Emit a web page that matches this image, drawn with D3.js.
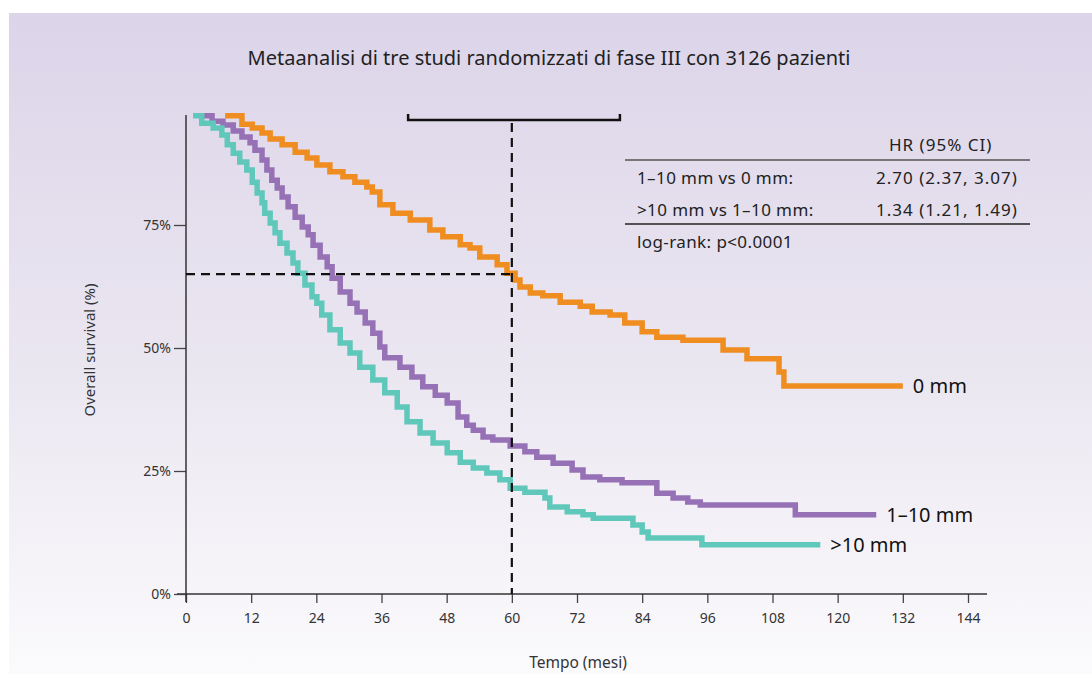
<!DOCTYPE html>
<html>
<head>
<meta charset="utf-8">
<script src="https://cdn.jsdelivr.net/npm/d3@7"></script>
<style>
  body { margin: 0; background: #fff; }
  svg { display: block; font-family: "Noto Sans", "Open Sans", sans-serif; }
</style>
</head>
<body>
<svg width="1092" height="674"></svg>
<script>
// Kaplan-Meier steps: [months, survival %]
var orange0mm = [[7.2,97.2],[10.3,95.5],[12.2,94.7],[14.0,93.7],[15.5,92.5],[17.7,91.3],[20.1,89.8],
  [22.3,88.6],[24.1,87.2],[26.5,85.8],[28.9,84.8],[31.1,83.7],[33.3,82.7],[34.3,81.7],[35.7,79.1],
  [38.1,77.4],[41.3,76.0],[44.9,74.0],[47.3,72.6],[50.5,71.0],[52.3,70.3],[54.1,68.5],[57.3,66.9],
  [59.1,65.2],[60.6,63.8],[61.5,62.4],[63.4,61.2],[65.7,60.6],[68.9,59.3],[72.6,58.5],[74.8,57.3],
  [78.1,56.7],[80.8,55.1],[84.0,53.3],[86.7,52.2],[91.5,51.6],[98.9,49.6],[103.3,47.8],[109.2,45.1],
  [110.1,42.3]];
var purple1to10 = [[2.6,97.2],[4.8,96.1],[6.8,95.3],[8.7,94.1],[10.3,92.9],[11.8,91.7],[12.7,90.2],
  [14.0,88.2],[14.9,86.2],[15.8,84.1],[16.8,82.5],[17.7,80.7],[18.8,78.7],[20.1,76.6],[21.4,74.6],
  [22.5,73.0],[23.4,70.9],[24.7,68.5],[26.0,66.5],[26.9,64.2],[28.4,61.4],[30.2,59.1],[31.5,57.3],
  [33.0,55.1],[34.4,53.0],[35.7,50.2],[36.6,48.0],[39.4,46.1],[41.6,44.1],[43.6,42.1],[45.9,40.4],
  [48.1,38.8],[50.1,36.0],[51.7,34.3],[52.9,33.3],[54.7,31.9],[56.5,31.3],[59.7,30.1],[62.4,28.9],
  [64.6,27.8],[67.6,26.6],[71.1,25.2],[73.1,23.8],[76.2,23.2],[80.3,22.6],[86.7,20.5],[89.7,19.5],
  [92.4,18.7],[94.7,18.1],[112.2,16.1]];
var teal10plus = [[1.3,97.2],[2.9,95.7],[5.0,94.7],[6.6,93.3],[7.6,91.3],[8.7,89.6],[9.9,87.8],
  [11.2,86.2],[12.2,83.7],[13.1,81.5],[14.0,79.5],[14.5,77.4],[15.5,75.4],[16.4,73.4],[17.3,71.3],
  [18.6,69.3],[19.7,67.3],[20.6,65.2],[21.9,62.8],[23.2,60.4],[24.1,59.1],[25.0,56.7],[26.5,53.7],
  [28.4,51.0],[30.2,49.0],[32.0,46.1],[34.4,43.5],[36.6,40.9],[38.9,38.0],[40.7,35.0],[43.1,32.7],
  [45.5,30.7],[48.1,28.7],[50.5,26.8],[52.9,25.6],[55.4,24.6],[57.8,23.2],[59.7,21.5],[62.4,20.7],
  [66.1,19.5],[67.0,17.7],[70.2,16.7],[73.1,16.1],[75.0,15.4],[82.3,14.0],[84.0,12.6],[85.1,11.4],
  [95.0,10.0]];
var seriesNames = ["0 mm", "1\u201310 mm", ">10 mm"];
var seriesEnds = [132, 127.1, 116.8];   // last follow-up, months
var xTicks = [0, 12, 24, 36, 48, 60, 72, 84, 96, 108, 120, 132, 144];
var yTicks = [0, 25, 50, 75];
var medianMark = [60, 65];              // 60 months, 65 %
var bracketRange = [40.9, 79.9];
var tableHeader = "HR (95% CI)";
var tableRows = [["1\u201310 mm vs 0 mm:", "2.70 (2.37, 3.07)"], [">10 mm vs 1\u201310 mm:", "1.34 (1.21, 1.49)"]];
var tableFoot = "log-rank: p<0.0001";

var colors = ["#ef8d20", "#9671b5", "#60c8bb"];

var svg = d3.select("svg");

// background panel with gradient
var defs = svg.append("defs");
var grad = defs.append("linearGradient").attr("id", "bg").attr("x1", 0).attr("y1", 0).attr("x2", 0).attr("y2", 1);
grad.append("stop").attr("offset", "0%").attr("stop-color", "#dcd4e9");
grad.append("stop").attr("offset", "55%").attr("stop-color", "#ebe7f1");
grad.append("stop").attr("offset", "100%").attr("stop-color", "#fbfafc");
svg.append("rect").attr("x", 9).attr("y", 13).attr("width", 1083).attr("height", 661).attr("fill", "url(#bg)");

var x = d3.scaleLinear().domain([0, 144]).range([186, 968]);
var y = d3.scaleLinear().domain([0, 100]).range([594, 102]);

// title
svg.append("text").attr("x", 549).attr("y", 65).attr("text-anchor", "middle")
  .attr("font-size", 20).attr("fill", "#222")
  .text("Metaanalisi di tre studi randomizzati di fase III con 3126 pazienti");

// axes
var xAxis = svg.append("g").attr("transform", "translate(0," + y(0) + ")")
  .call(d3.axisBottom(x).tickValues(xTicks).tickSize(9).tickPadding(10));
xAxis.select(".domain").remove();
xAxis.append("line").attr("x1", 177).attr("x2", 987).attr("stroke", "#333").attr("stroke-width", 1.5);
xAxis.selectAll(".tick line").attr("stroke", "#444").attr("stroke-width", 1.3);
xAxis.selectAll(".tick text").attr("font-size", 14).attr("fill", "#333").attr("font-family", "Noto Sans");

var yAxis = svg.append("g").attr("transform", "translate(" + x(0) + ",0)")
  .call(d3.axisLeft(y).tickValues(yTicks).tickSize(12).tickPadding(3).tickFormat(function(d) { return d + "%"; }));
yAxis.select(".domain").remove();
yAxis.append("line").attr("y1", 115).attr("y2", 602).attr("stroke", "#333").attr("stroke-width", 1.5);
yAxis.selectAll(".tick line").attr("stroke", "#444").attr("stroke-width", 1.3);
yAxis.selectAll(".tick text").attr("font-size", 14).attr("fill", "#333").attr("font-family", "Noto Sans");

svg.append("text").attr("transform", "translate(95,350) rotate(-90)").attr("text-anchor", "middle")
  .attr("font-size", 15).attr("fill", "#333").text("Overall survival (%)");
svg.append("text").attr("x", 578).attr("y", 668).attr("text-anchor", "middle")
  .attr("font-size", 15.5).attr("fill", "#333").text("Tempo (mesi)");

// survival curves
var line = d3.line().x(function(d) { return x(d[0]); }).y(function(d) { return y(d[1]); }).curve(d3.curveStepAfter);
[orange0mm, purple1to10, teal10plus].forEach(function(s, i) {
  var pts = s.concat([[seriesEnds[i], s[s.length - 1][1]]]);
  svg.append("path").attr("d", line(pts)).attr("fill", "none")
    .attr("stroke", colors[i]).attr("stroke-width", 5.5).attr("stroke-linejoin", "miter");
  svg.append("text").attr("x", x(seriesEnds[i]) + 10).attr("y", y(pts[pts.length - 1][1]) + 7)
    .attr("font-size", 20).attr("fill", "#111").text(seriesNames[i]);
});

// median reference lines
svg.append("line").attr("x1", x(0)).attr("x2", x(medianMark[0])).attr("y1", y(medianMark[1])).attr("y2", y(medianMark[1]))
  .attr("stroke", "#111").attr("stroke-width", 2.2).attr("stroke-dasharray", "9,6");
svg.append("line").attr("x1", x(medianMark[0])).attr("x2", x(medianMark[0])).attr("y1", 123).attr("y2", y(0))
  .attr("stroke", "#111").attr("stroke-width", 2.2).attr("stroke-dasharray", "9,6");

// bracket
var by = 120;
svg.append("path")
  .attr("d", "M" + x(bracketRange[0]) + "," + (by - 6) + "V" + by + "H" + x(bracketRange[1]) + "V" + (by - 6))
  .attr("fill", "none").attr("stroke", "#111").attr("stroke-width", 2.5);

// HR table
var tbl = svg.append("g").attr("font-size", 17).attr("fill", "#222").attr("letter-spacing", 0.4);
tbl.append("text").attr("x", 889).attr("y", 151).attr("letter-spacing", 1).text(tableHeader);
tbl.append("line").attr("x1", 625).attr("x2", 1030).attr("y1", 160).attr("y2", 160).attr("stroke", "#555").attr("stroke-width", 1.5);
tableRows.forEach(function(r, i) {
  tbl.append("text").attr("x", 637).attr("y", 184 + i * 32).text(r[0]);
  tbl.append("text").attr("x", 876).attr("y", 184 + i * 32).attr("letter-spacing", 1).text(r[1]);
});
tbl.append("line").attr("x1", 625).attr("x2", 1030).attr("y1", 224).attr("y2", 224).attr("stroke", "#222").attr("stroke-width", 1.5);
tbl.append("text").attr("x", 637).attr("y", 248).text(tableFoot);
</script>
</body>
</html>
